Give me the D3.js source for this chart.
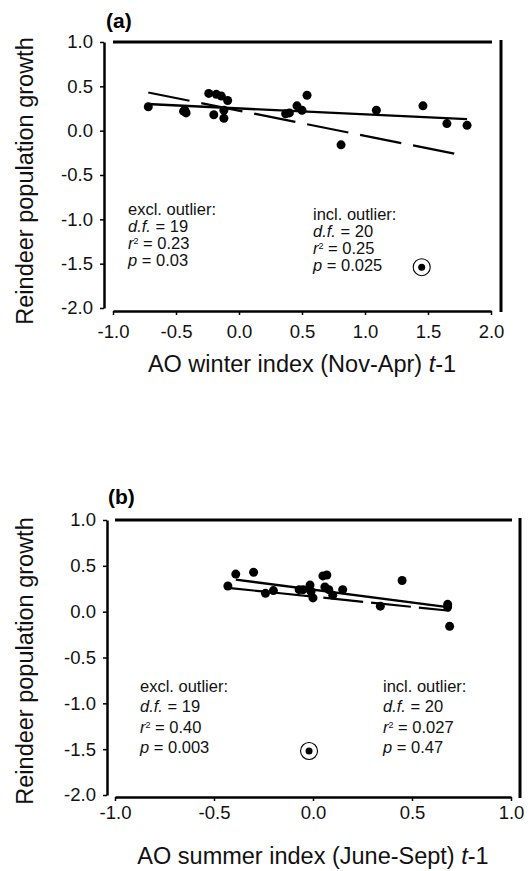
<!DOCTYPE html>
<html>
<head>
<meta charset="utf-8">
<script src="https://cdn.jsdelivr.net/npm/d3@7"></script>
<style>
  html, body { margin: 0; padding: 0; background: #fff; }
  svg { display: block; font-family: "Liberation Sans", Arial, Helvetica, sans-serif; }
</style>
</head>
<body>
<svg id="chart" width="531" height="871"></svg>
<script>
// ---------- Data ----------
// Panel (a): AO winter index (Nov-Apr) t-1
const winterX = [-0.72, -0.44, -0.42, -0.24, -0.18, -0.14, -0.09, -0.20, -0.12, -0.12,
                 0.37, 0.40, 0.46, 0.50, 0.54, 0.81, 1.09, 1.46, 1.65, 1.81, -0.43];
const winterY = [0.27, 0.22, 0.20, 0.42, 0.41, 0.39, 0.34, 0.18, 0.14, 0.23,
                 0.19, 0.20, 0.28, 0.23, 0.40, -0.16, 0.23, 0.28, 0.08, 0.06, 0.23];
const winterOutlier = [1.45, -1.54];
const winterFitExclX = [-0.73, 1.81], winterFitExclY = [0.30, 0.13];
const winterFitInclX = [-0.72, 1.71], winterFitInclY = [0.43, -0.26];
const winterXTicks = [-1.0, -0.5, 0.0, 0.5, 1.0, 1.5, 2.0];

// Panel (b): AO summer index (June-Sept) t-1
const summerX = [-0.39, -0.30, -0.43, -0.24, -0.20, -0.07, -0.05, -0.015, -0.01, 0.00,
                 0.05, 0.07, 0.06, 0.08, 0.10, 0.15, 0.34, 0.45, 0.68, 0.68, 0.69];
const summerY = [0.41, 0.43, 0.28, 0.20, 0.23, 0.24, 0.24, 0.29, 0.22, 0.15,
                 0.39, 0.40, 0.27, 0.24, 0.18, 0.24, 0.06, 0.34, 0.08, 0.05, -0.16];
const summerOutlier = [-0.02, -1.52];
const summerFitExclX = [-0.39, 0.68], summerFitExclY = [0.35, 0.05];
const summerFitInclX = [-0.43, 0.69], summerFitInclY = [0.26, 0.01];
const summerXTicks = [-1.0, -0.5, 0.0, 0.5, 1.0];

const yTicks = [1.0, 0.5, 0.0, -0.5, -1.0, -1.5, -2.0];

const yTitle = "Reindeer population growth";

// ---------- Drawing ----------
const svg = d3.select("#chart");
const fmt = d => d.toFixed(1);

function drawPanel(o) {
  const g = svg.append("g");
  const x = d3.scaleLinear().domain(o.xDomain).range(o.xRange);
  const y = d3.scaleLinear().domain([1.0, -2.0]).range(o.yRange);

  // frame: top and right lines
  g.append("line").attr("x1", x(o.xDomain[0])).attr("x2", x(o.xDomain[1]) + 1)
    .attr("y1", y(1.0)).attr("y2", y(1.0)).attr("stroke", "#000").attr("stroke-width", 3);
  g.append("line").attr("x1", o.rightX).attr("x2", o.rightX)
    .attr("y1", y(1.0) - 2).attr("y2", o.bottomY + 1).attr("stroke", "#000").attr("stroke-width", 3);

  // left axis
  const ya = d3.axisLeft(y).tickValues(yTicks).tickFormat(fmt).tickSize(4).tickPadding(7).tickSizeOuter(0);
  const yg = g.append("g").attr("transform", `translate(${o.leftX},0)`).call(ya);
  yg.select(".domain").attr("stroke-width", 2.5);
  yg.selectAll(".tick line").attr("stroke-width", 1.5);
  yg.selectAll("text").attr("font-size", 18.5).attr("fill", "#111")
    .style("font-family", "Liberation Sans, Arial, sans-serif");

  // bottom axis
  const xa = d3.axisBottom(x).tickValues(o.xTicks).tickFormat(fmt).tickSize(4).tickPadding(o.xPad).tickSizeOuter(0);
  const xg = g.append("g").attr("transform", `translate(0,${o.bottomY})`).call(xa);
  xg.select(".domain").attr("stroke-width", 2.5);
  xg.selectAll(".tick line").attr("stroke-width", 1.5);
  xg.selectAll("text").attr("font-size", 18.5).attr("fill", "#111")
    .style("font-family", "Liberation Sans, Arial, sans-serif");

  // panel label
  g.append("text").attr("x", o.labelX).attr("y", o.labelY)
    .attr("font-size", 21).attr("font-weight", "bold").text(o.label);

  // axis titles
  const xt = g.append("text").attr("x", (o.xRange[0] + o.xRange[1]) / 2).attr("y", o.xTitleY)
    .attr("text-anchor", "middle").attr("font-size", 23.5).attr("fill", "#111");
  xt.append("tspan").text(o.xTitle + " ");
  xt.append("tspan").attr("font-style", "italic").text("t");
  xt.append("tspan").text("-1");

  g.append("text").attr("transform", `translate(${o.yTitleX},${o.yTitleY}) rotate(-90)`)
    .attr("text-anchor", "middle").attr("font-size", 23.5).attr("fill", "#111").text(yTitle);

  // regression lines
  const line = d3.line().x(d => x(d[0])).y(d => y(d[1]));
  g.append("path").datum(d3.zip(o.exclX, o.exclY)).attr("d", line)
    .attr("fill", "none").attr("stroke", "#000").attr("stroke-width", 2.4);
  g.append("path").datum(d3.zip(o.inclX, o.inclY)).attr("d", line)
    .attr("fill", "none").attr("stroke", "#000").attr("stroke-width", 2.2)
    .attr("stroke-dasharray", o.dash);

  // points
  g.selectAll("circle.pt").data(d3.zip(o.px, o.py)).join("circle").attr("class", "pt")
    .attr("cx", d => x(d[0])).attr("cy", d => y(d[1])).attr("r", 4.5).attr("fill", "#000");

  // outlier
  g.append("circle").attr("cx", x(o.outlier[0])).attr("cy", y(o.outlier[1])).attr("r", 8.5)
    .attr("fill", "none").attr("stroke", "#000").attr("stroke-width", 1.1);
  g.append("circle").attr("cx", x(o.outlier[0])).attr("cy", y(o.outlier[1])).attr("r", 3.5)
    .attr("fill", "#000");

  // statistics annotations
  function stats(x0, y0, gap, head, df, r2, p) {
    const t = g.append("text").attr("font-size", 16.5).attr("fill", "#111");
    t.append("tspan").attr("x", x0).attr("y", y0).text(head);
    const l2 = t.append("tspan").attr("x", x0).attr("y", y0 + gap);
    l2.append("tspan").attr("font-style", "italic").text("d.f.");
    l2.append("tspan").text(" = " + df);
    const l3 = t.append("tspan").attr("x", x0).attr("y", y0 + 2 * gap);
    l3.append("tspan").attr("font-style", "italic").text("r");
    l3.append("tspan").attr("font-size", 9).attr("dy", -5).text("2");
    l3.append("tspan").attr("dy", 5).text(" = " + r2);
    const l4 = t.append("tspan").attr("x", x0).attr("y", y0 + 3 * gap);
    l4.append("tspan").attr("font-style", "italic").text("p");
    l4.append("tspan").text(" = " + p);
  }
  stats(o.exclPos[0], o.exclPos[1], o.lineGap, "excl. outlier:", o.exclStats[0], o.exclStats[1], o.exclStats[2]);
  stats(o.inclPos[0], o.inclPos[1], o.lineGap, "incl. outlier:", o.inclStats[0], o.inclStats[1], o.inclStats[2]);
}

drawPanel({
  label: "(a)", labelX: 106, labelY: 28,
  xDomain: [-1.0, 2.0], xRange: [113, 491], yRange: [42, 308],
  leftX: 104, bottomY: 311, rightX: 501, xPad: 10,
  xTicks: winterXTicks, xTitle: "AO winter index (Nov-Apr)", xTitleY: 372,
  yTitleX: 33, yTitleY: 181,
  px: winterX, py: winterY, outlier: winterOutlier,
  exclX: winterFitExclX, exclY: winterFitExclY, inclX: winterFitInclX, inclY: winterFitInclY,
  dash: "42,12",
  exclPos: [128, 215], inclPos: [313, 220], lineGap: 17,
  exclStats: ["19", "0.23", "0.03"], inclStats: ["20", "0.25", "0.025"]
});

drawPanel({
  label: "(b)", labelX: 108, labelY: 504,
  xDomain: [-1.0, 1.0], xRange: [115, 511], yRange: [520, 795],
  leftX: 107, bottomY: 797, rightX: 520, xPad: 5,
  xTicks: summerXTicks, xTitle: "AO summer index (June-Sept)", xTitleY: 864,
  yTitleX: 33, yTitleY: 661,
  px: summerX, py: summerY, outlier: summerOutlier,
  exclX: summerFitExclX, exclY: summerFitExclY, inclX: summerFitInclX, inclY: summerFitInclY,
  dash: "40,8",
  exclPos: [140, 692], inclPos: [383, 692], lineGap: 20.3,
  exclStats: ["19", "0.40", "0.003"], inclStats: ["20", "0.027", "0.47"]
});
</script>
</body>
</html>
